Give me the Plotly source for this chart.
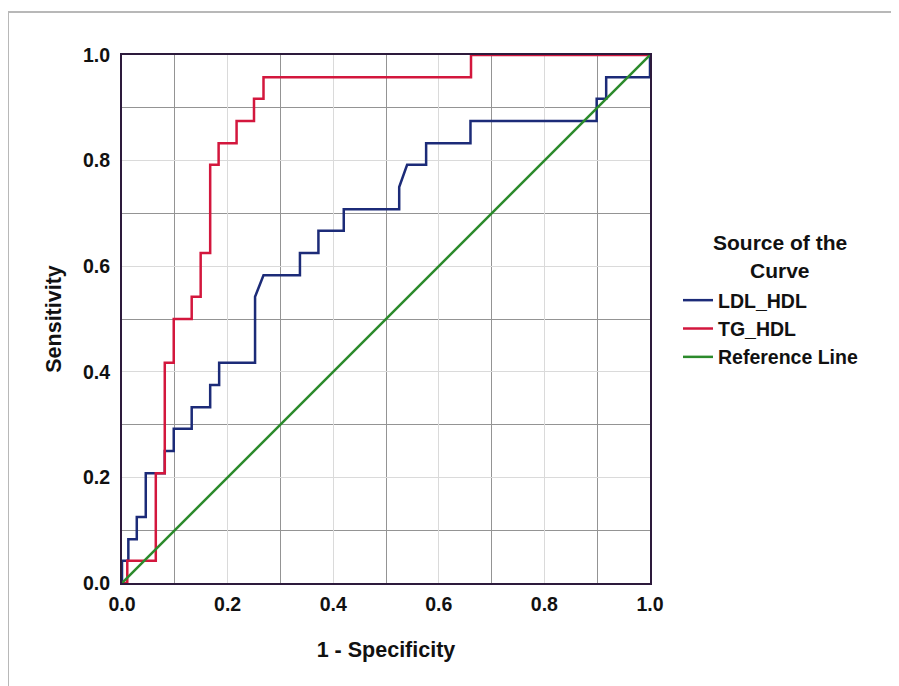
import plotly.graph_objects as go

# ROC curve corner points
ldl_fpr = [0, 0, 0.012, 0.012, 0.028, 0.028, 0.045, 0.045, 0.081, 0.081, 0.098, 0.098,
           0.132, 0.132, 0.167, 0.167, 0.184, 0.184, 0.252, 0.252, 0.268, 0.337, 0.337,
           0.372, 0.372, 0.42, 0.42, 0.525, 0.525, 0.54, 0.576, 0.576, 0.66, 0.66,
           0.899, 0.899, 0.917, 0.917, 1.0, 1.0]
ldl_tpr = [0, 0.042, 0.042, 0.083, 0.083, 0.125, 0.125, 0.208, 0.208, 0.25, 0.25, 0.292,
           0.292, 0.333, 0.333, 0.375, 0.375, 0.417, 0.417, 0.542, 0.583, 0.583, 0.625,
           0.625, 0.667, 0.667, 0.708, 0.708, 0.75, 0.792, 0.792, 0.833, 0.833, 0.875,
           0.875, 0.917, 0.917, 0.958, 0.958, 1.0]

tg_fpr = [0, 0.01, 0.01, 0.064, 0.064, 0.081, 0.081, 0.098, 0.098, 0.132, 0.132, 0.149,
          0.149, 0.167, 0.167, 0.183, 0.183, 0.217, 0.217, 0.25, 0.25, 0.268, 0.268,
          0.661, 0.661, 1.0]
tg_tpr = [0, 0, 0.042, 0.042, 0.208, 0.208, 0.417, 0.417, 0.5, 0.5, 0.542, 0.542, 0.625,
          0.625, 0.792, 0.792, 0.833, 0.833, 0.875, 0.875, 0.917, 0.917, 0.958, 0.958,
          1.0, 1.0]

ref_x = [0, 1]
ref_y = [0, 1]

tick_vals = [0, 0.2, 0.4, 0.6, 0.8, 1.0]
tick_text = ["0.0", "0.2", "0.4", "0.6", "0.8", "1.0"]

FONT = "Liberation Sans, Arial, sans-serif"

fig = go.Figure()
fig.add_trace(go.Scatter(x=ldl_fpr, y=ldl_tpr, mode="lines", name="LDL_HDL",
                         line=dict(color="#1c2b78", width=2.5)))
fig.add_trace(go.Scatter(x=tg_fpr, y=tg_tpr, mode="lines", name="TG_HDL",
                         line=dict(color="#d3173d", width=2.5)))
fig.add_trace(go.Scatter(x=ref_x, y=ref_y, mode="lines", name="Reference Line",
                         line=dict(color="#2b8a2b", width=2.5)))

axis_common = dict(
    range=[0, 1], tickvals=tick_vals, ticktext=tick_text, ticks="",
    showline=True, linecolor="#2d1a3c", linewidth=2, mirror=True,
    showgrid=True, gridcolor="#dadada", gridwidth=1, zeroline=False,
    minor=dict(tick0=0.1, dtick=0.2, showgrid=True, gridcolor="#949494", gridwidth=1),
    tickfont=dict(family=FONT, size=19.5, color="#111111", weight="bold"),
    automargin=False, fixedrange=True,
)

title_font = dict(family=FONT, size=21.5, color="#111111", weight="bold")
legend_title_font = dict(family=FONT, size=21, color="#111111", weight="bold")

fig.update_layout(
    width=899, height=686,
    margin=dict(l=114, r=257, t=47, b=111),
    paper_bgcolor="white", plot_bgcolor="white",
    font=dict(family=FONT, color="#111111", weight="bold"),
    xaxis=dict(**axis_common, ticklabelstandoff=3,
               title=dict(text="1 - Specificity", standoff=28, font=title_font)),
    yaxis=dict(**axis_common, ticklabelstandoff=6,
               title=dict(text="Sensitivity", standoff=15, font=title_font)),
    legend=dict(x=1.053, y=0.572, xanchor="left", yanchor="top",
                font=dict(family=FONT, size=19.5, color="#111111", weight="bold"),
                tracegroupgap=0, itemwidth=30, bgcolor="rgba(0,0,0,0)"),
    showlegend=True,
    annotations=[
        dict(text="Source of the", xref="paper", yref="paper",
             x=1.246, y=0.645, xanchor="center", yanchor="middle",
             showarrow=False, font=legend_title_font),
        dict(text="Curve", xref="paper", yref="paper",
             x=1.246, y=0.592, xanchor="center", yanchor="middle",
             showarrow=False, font=legend_title_font),
    ],
    shapes=[dict(type="rect", xref="paper", yref="paper",
                 x0=-0.2159, x1=1.49, y0=-0.25, y1=1.0814,
                 line=dict(color="#b8b8b8", width=2), layer="below")],
)

fig.write_html("out.html")
